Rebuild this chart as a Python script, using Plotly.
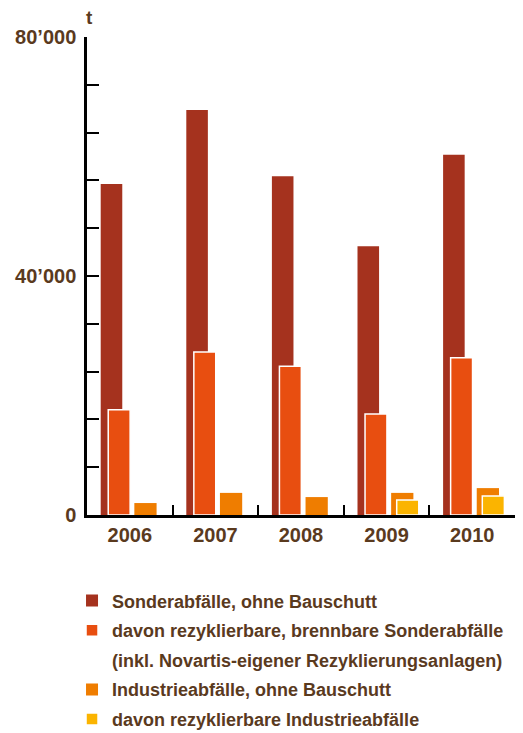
import plotly.graph_objects as go

years = ["2006", "2007", "2008", "2009", "2010"]
sonder = [55400, 67800, 56700, 45000, 60300]
sonder_rezykl = [17600, 27300, 24900, 16900, 26300]
industrie = [2000, 3700, 3000, 3700, 4500]
industrie_rezykl = [None, None, None, 2500, 3200]

names = [
    "Sonderabfälle, ohne Bauschutt",
    "davon rezyklierbare, brennbare Sonderabfälle",
    "Industrieabfälle, ohne Bauschutt",
    "davon rezyklierbare Industrieabfälle",
]
note_line = "(inkl. Novartis-eigener Rezyklierungsanlagen)"
colors = ["#A5321E", "#E84E10", "#EF7D00", "#FBB400"]

y_tickvals = list(range(0, 80001, 8000))
y_ticktext = ["0", "", "", "", "", "40’000", "", "", "", "", "80’000"]

TXT = "#5A3A1E"
FONT = "Liberation Sans"

fig = go.Figure()
series = [sonder, sonder_rezykl, industrie, industrie_rezykl]
offsets = [-0.34, -0.252, 0.053, 0.118]
widths = [0.252, 0.256, 0.26, 0.258]
lines = [0, 1.5, 0, 1.5]
ranks = [1, 2, 4, 5]
for i, (vals, nm, c, off, w, lw) in enumerate(zip(series, names, colors, offsets, widths, lines)):
    fig.add_trace(go.Bar(
        x=years, y=vals, name=nm, offset=off, width=w,
        marker=dict(color=c, line=dict(color="white", width=lw)),
        legendgroup=f"g{ranks[i]}", legendrank=ranks[i],
    ))
# second line of the 2nd legend entry (no symbol)
fig.add_trace(go.Bar(
    x=years, y=[None] * len(years), name=note_line,
    marker=dict(color="rgba(0,0,0,0)", line=dict(width=0)),
    legendgroup="g3", legendrank=3, hoverinfo="skip",
))

fig.update_layout(
    width=515, height=725,
    margin=dict(l=79, r=8, t=29, b=218, autoexpand=False),
    barmode="overlay",
    paper_bgcolor="white", plot_bgcolor="white",
    font=dict(family=FONT, color=TXT, size=18),
    showlegend=True,
    legend=dict(
        x=-0.035, y=-0.141, xanchor="left", yanchor="top",
        traceorder="grouped", tracegroupgap=3.2,
        font=dict(family=FONT, size=18, color=TXT, weight="bold"),
        bgcolor="rgba(0,0,0,0)",
    ),
    xaxis=dict(
        type="category", showline=True, linecolor="black", linewidth=3,
        ticks="inside", tickson="boundaries", ticklen=10, tickwidth=1.5, tickcolor="black",
        tickfont=dict(family=FONT, size=20, color=TXT, weight="bold"),
        showgrid=False, zeroline=False, range=[-0.5, 4.5],
    ),
    yaxis=dict(
        range=[0, 80000], tickvals=y_tickvals, ticktext=y_ticktext,
        showline=True, linecolor="black", linewidth=2.5,
        ticks="inside", ticklen=12, tickwidth=1.5, tickcolor="black",
        tickfont=dict(family=FONT, size=20, color=TXT, weight="bold"),
        showgrid=False, zeroline=False, ticklabelstandoff=4,
    ),
    annotations=[dict(
        text="t", xref="paper", yref="paper", x=0.005, y=1.0, yshift=20,
        xanchor="center", yanchor="middle", showarrow=False,
        font=dict(family=FONT, size=19, color=TXT, weight="bold"),
    )],
)

fig.write_html("out.html")
